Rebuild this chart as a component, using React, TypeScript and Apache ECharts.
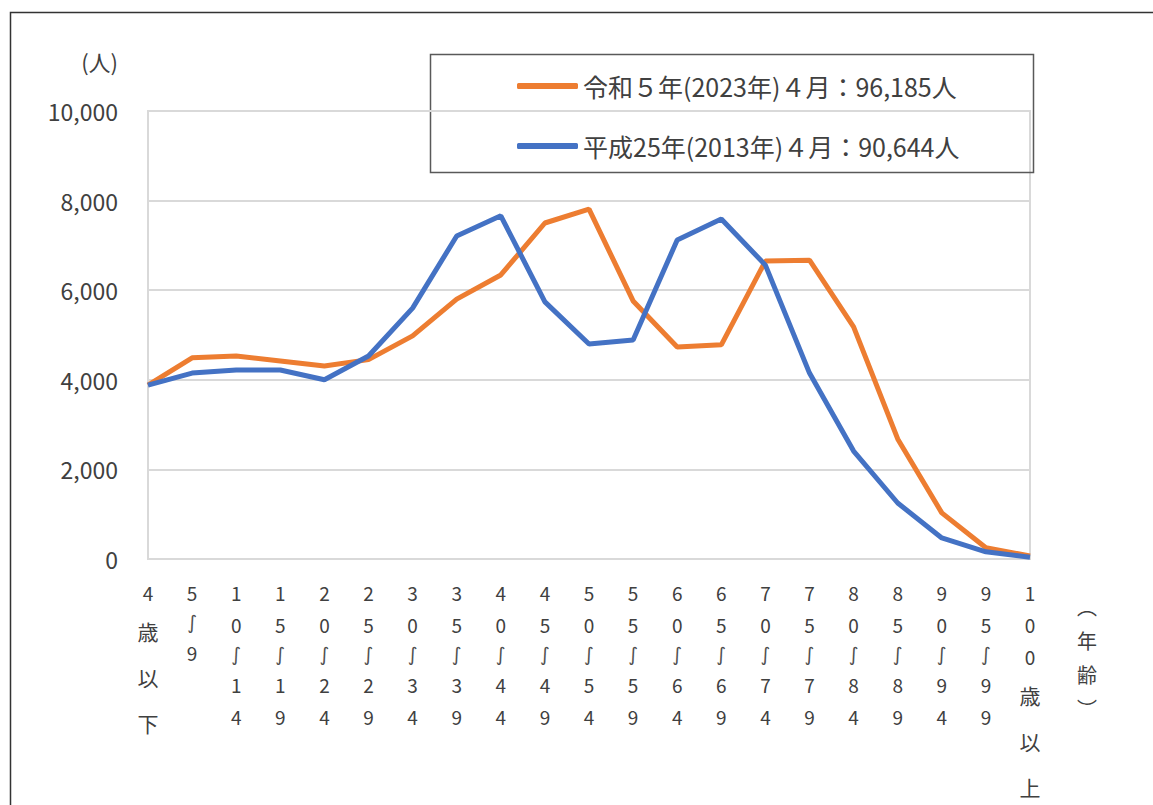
import React, { useEffect, useRef } from "react";
import * as echarts from "echarts";

const categories = ["4歳以下", "5～9", "10～14", "15～19", "20～24", "25～29", "30～34", "35～39", "40～44", "45～49", "50～54", "55～59", "60～64", "65～69", "70～74", "75～79", "80～84", "85～89", "90～94", "95～99", "100歳以上"];
const seriesNames = ["令和５年(2023年)４月：96,185人", "平成25年(2013年)４月：90,644人"];
const reiwa5 = [3880, 4490, 4530, 4420, 4310, 4450, 4980, 5800, 6340, 7500, 7810, 5760, 4730, 4780, 6650, 6670, 5180, 2680, 1030, 250, 70];
const heisei25 = [3880, 4150, 4220, 4220, 4000, 4530, 5600, 7210, 7660, 5740, 4800, 4890, 7120, 7590, 6560, 4150, 2410, 1250, 470, 160, 40];
const yUnit = "(人)";
const xUnit = "︵\n年\n齢\n︶";
const waveGlyph = "∫";

const FONT = "'Noto Sans CJK JP', 'Noto Sans', sans-serif";
const TXT = "#404040";

export default function App() {
  const ref = useRef<HTMLDivElement>(null);
  useEffect(() => {
    if (!ref.current) return;
    const chart = echarts.init(ref.current, null, { renderer: "svg" });
    chart.setOption({
      animation: false,
      textStyle: { fontFamily: FONT, color: TXT },
      grid: { left: 148, right: 123, top: 111, bottom: 246, show: true, borderColor: "#d9d9d9", borderWidth: 2, containLabel: false },
      legend: {
        orient: "vertical",
        left: 512,
        top: 68,
        itemGap: 34,
        icon: "roundRect",
        itemWidth: 61,
        itemHeight: 6,
        textStyle: { fontFamily: FONT, fontSize: 25, color: TXT, lineHeight: 26 },
        data: seriesNames,
      },
      xAxis: {
        type: "category",
        data: categories,
        boundaryGap: false,
        axisLine: { show: true, lineStyle: { color: "#d9d9d9", width: 2 } },
        axisTick: { show: false },
        axisLabel: {
          interval: 0,
          margin: 17,
          verticalAlign: "top",
          formatter: (v: string) =>
            Array.from(v)
              .map((c) => (/[0-9]/.test(c) ? `{d|${c}}` : c === "～" ? `{w|${waveGlyph}}` : `{k|${c}}`))
              .join("\n"),
          rich: {
            d: { fontFamily: FONT, fontSize: 19, lineHeight: 32, color: TXT },
            w: { fontFamily: "'Noto Sans', 'DejaVu Sans', sans-serif", fontSize: 19, lineHeight: 28, color: "#505050" },
            k: { fontFamily: FONT, fontSize: 21, lineHeight: 46, color: TXT },
          },
        },
      },
      yAxis: {
        type: "value",
        min: 0,
        max: 10000,
        interval: 2000,
        axisLine: { show: false },
        axisTick: { show: false },
        splitLine: { lineStyle: { color: "#d9d9d9", width: 2 } },
        axisLabel: {
          margin: 30,
          fontSize: 23,
          color: TXT,
          fontFamily: FONT,
          formatter: (v: number) => v.toLocaleString("en-US"),
        },
      },
      series: [
        { name: seriesNames[0], type: "line", data: reiwa5, symbol: "none", lineStyle: { color: "#ED7D31", width: 5 }, itemStyle: { color: "#ED7D31" } },
        { name: seriesNames[1], type: "line", data: heisei25, symbol: "none", lineStyle: { color: "#4472C4", width: 5 }, itemStyle: { color: "#4472C4" } },
      ],
      graphic: [
        { type: "rect", left: 8, top: 10, shape: { width: 1200, height: 900 }, style: { fill: "none", stroke: "#333", lineWidth: 1.5 }, silent: true },
        { type: "rect", left: 428, top: 52, shape: { width: 603, height: 118 }, style: { fill: "none", stroke: "#595959", lineWidth: 1.5 }, silent: true },
        { type: "text", x: 118, y: 61, style: { text: yUnit, fontFamily: FONT, fontSize: 22, fill: TXT, align: "right", verticalAlign: "middle" } },
        { type: "text", x: 1087, y: 589, style: { text: xUnit, fontFamily: FONT, fontSize: 20, lineHeight: 34, fill: TXT, align: "center", verticalAlign: "top" } },
      ],
    });
    return () => chart.dispose();
  }, []);
  return <div ref={ref} style={{ position: "absolute", left: 0, top: 0, width: 1153, height: 805, background: "#fff" }} />;
}
